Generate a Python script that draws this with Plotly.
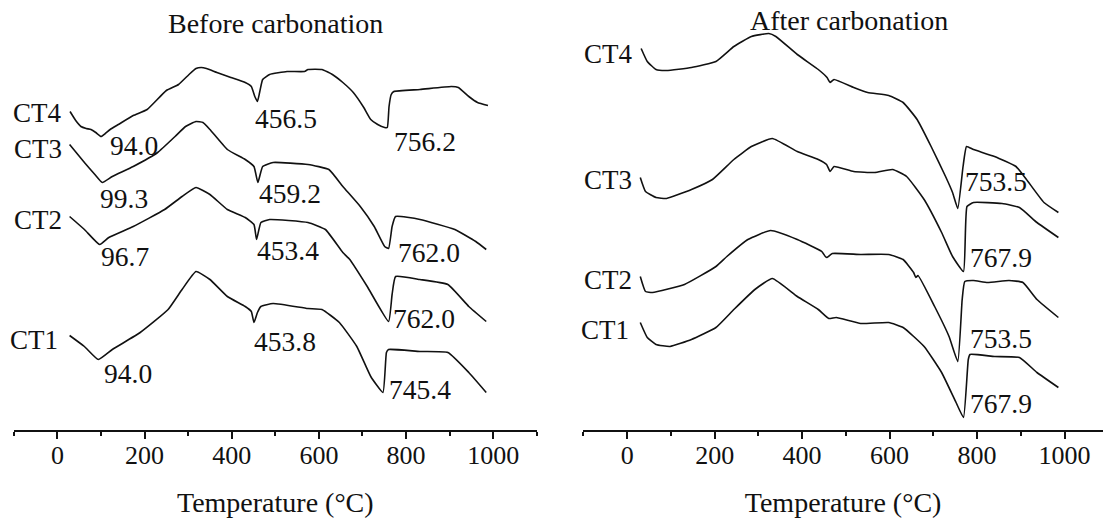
import plotly.graph_objects as go

# ---------------- data (temperature in °C, DTA signal in arbitrary offset units) ----------------
# Before carbonation
b_ct4_T = [29, 42, 54, 66, 77, 88, 100, 110, 121, 140, 174, 206, 250, 278, 302, 318, 330, 342, 366, 398, 431, 445, 453, 459, 464, 471, 487, 527, 567, 575, 607, 631, 655, 679, 703, 719, 735, 751, 757, 761, 766, 772, 832, 904, 920, 944, 964, 988]
b_ct4_y = [318, 309, 303, 301, 300, 297, 293, 296, 300, 305, 314, 320, 339, 345, 355, 361, 362, 361, 357, 352, 347, 343, 333, 328, 337, 350, 355, 358, 358, 360, 360, 355, 347, 337, 322, 310, 305, 302, 302, 323, 335, 338, 340, 343, 342, 333, 327, 324]

b_ct3_T = [28, 62, 86, 103, 126, 174, 230, 270, 294, 318, 334, 350, 390, 431, 451, 460, 471, 495, 575, 623, 655, 695, 727, 751, 760, 768, 776, 832, 912, 960, 984]
b_ct3_y = [285, 267, 255, 247, 253, 263, 277, 293, 303, 308, 307, 300, 280, 270, 263, 247, 263, 267, 265, 260, 243, 223, 203, 183, 181, 203, 213, 210, 200, 188, 180]

b_ct2_T = [28, 62, 97, 118, 174, 246, 286, 318, 350, 390, 431, 451, 457, 467, 487, 575, 615, 655, 671, 711, 760, 768, 776, 832, 896, 944, 984]
b_ct2_y = [213, 200, 185, 192, 203, 220, 233, 242, 235, 220, 212, 205, 190, 207, 210, 207, 200, 177, 170, 143, 108, 135, 153, 150, 145, 123, 108]

b_ct1_T = [28, 62, 94, 126, 190, 254, 286, 318, 350, 390, 431, 445, 451, 459, 467, 495, 575, 607, 647, 687, 719, 747, 755, 760, 832, 896, 944, 984]
b_ct1_y = [94, 83, 70, 80, 97, 120, 140, 158, 150, 133, 123, 118, 107, 117, 123, 126, 121, 120, 107, 83, 53, 37, 77, 80, 78, 77, 57, 37]

# After carbonation
a_ct4_T = [32, 46, 66, 90, 147, 203, 244, 284, 324, 340, 389, 437, 457, 464, 473, 518, 550, 598, 631, 663, 695, 728, 744, 756, 768, 776, 792, 840, 889, 913, 953, 986]
a_ct4_y = [381, 368, 360, 359, 362, 368, 383, 393, 396, 393, 375, 360, 352, 347, 350, 342, 337, 334, 327, 310, 283, 253, 237, 221, 263, 283, 280, 273, 263, 250, 227, 217]

a_ct3_T = [30, 42, 66, 90, 147, 195, 244, 284, 332, 389, 437, 456, 464, 473, 518, 566, 607, 639, 679, 719, 744, 769, 777, 792, 857, 897, 937, 986]
a_ct3_y = [252, 238, 232, 231, 240, 250, 270, 283, 291, 278, 270, 265, 258, 263, 258, 257, 260, 253, 230, 197, 173, 158, 223, 227, 226, 222, 207, 192]

a_ct2_T = [30, 42, 58, 131, 203, 228, 276, 328, 389, 445, 453, 457, 469, 534, 598, 631, 655, 660, 665, 703, 736, 756, 766, 772, 792, 824, 873, 905, 937, 986]
a_ct2_y = [153, 138, 137, 145, 163, 173, 190, 199, 190, 178, 173, 172, 176, 175, 175, 170, 157, 152, 154, 123, 93, 68, 130, 148, 149, 147, 149, 147, 130, 112]

a_ct1_T = [30, 46, 66, 98, 147, 203, 244, 292, 332, 389, 437, 461, 478, 534, 598, 631, 679, 719, 752, 769, 780, 784, 840, 897, 937, 986]
a_ct1_y = [107, 92, 85, 83, 90, 102, 120, 140, 151, 133, 120, 111, 112, 106, 107, 102, 83, 57, 27, 12, 70, 75, 73, 72, 57, 42]

# series labels
series_names = ["CT4", "CT3", "CT2", "CT1"]
b_name_T = [15, 15, 15, 5]
b_name_y = [317, 281, 210, 90]
a_name_T = [19, 16, 16, 9]
a_name_y = [376, 250, 150, 100]

# peak labels
b_peak_text = ["94.0", "456.5", "756.2", "99.3", "459.2", "96.7", "453.4", "762.0", "762.0", "453.8", "94.0", "745.4"]
b_peak_T = [175, 524, 843, 153, 534, 155, 530, 852, 841, 522, 162, 831]
b_peak_y = [284, 311, 288, 231, 236, 173, 179, 177, 111, 88, 56, 40]

a_peak_text = ["753.5", "767.9", "753.5", "767.9"]
a_peak_T = [844, 855, 855, 855]
a_peak_y = [248, 172, 91, 26]

panel_titles = ["Before carbonation", "After carbonation"]
x_title = "Temperature (°C)"
tick_vals = [0, 200, 400, 600, 800, 1000]

# ---------------- figure ----------------
FONT = "Liberation Serif"
INK = "#111111"
fig = go.Figure()

before = [(b_ct4_T, b_ct4_y), (b_ct3_T, b_ct3_y), (b_ct2_T, b_ct2_y), (b_ct1_T, b_ct1_y)]
after = [(a_ct4_T, a_ct4_y), (a_ct3_T, a_ct3_y), (a_ct2_T, a_ct2_y), (a_ct1_T, a_ct1_y)]

for name, (t, y) in zip(series_names, before):
    fig.add_trace(go.Scatter(x=t, y=y, mode="lines", name=name + " before",
                             line=dict(color=INK, width=1.6, shape="spline", smoothing=0.4),
                             xaxis="x", yaxis="y", showlegend=False, hoverinfo="skip"))
for name, (t, y) in zip(series_names, after):
    fig.add_trace(go.Scatter(x=t, y=y, mode="lines", name=name + " after",
                             line=dict(color=INK, width=1.6, shape="spline", smoothing=0.4),
                             xaxis="x2", yaxis="y2", showlegend=False, hoverinfo="skip"))

ann = []
for name, t, y in zip(series_names, b_name_T, b_name_y):
    ann.append(dict(x=t, y=y, xref="x", yref="y", text=name, showarrow=False,
                    xanchor="right", yanchor="middle", font=dict(family=FONT, size=27, color=INK)))
for name, t, y in zip(series_names, a_name_T, a_name_y):
    ann.append(dict(x=t, y=y, xref="x2", yref="y2", text=name, showarrow=False,
                    xanchor="right", yanchor="middle", font=dict(family=FONT, size=27, color=INK)))
for txt, t, y in zip(b_peak_text, b_peak_T, b_peak_y):
    ann.append(dict(x=t, y=y, xref="x", yref="y", text=txt, showarrow=False,
                    xanchor="center", yanchor="middle", font=dict(family=FONT, size=27.5, color=INK)))
for txt, t, y in zip(a_peak_text, a_peak_T, a_peak_y):
    ann.append(dict(x=t, y=y, xref="x2", yref="y2", text=txt, showarrow=False,
                    xanchor="center", yanchor="middle", font=dict(family=FONT, size=27.5, color=INK)))
ann.append(dict(x=0.2497, y=1 - 23.3 / 518, xref="paper", yref="paper", text=panel_titles[0],
                showarrow=False, xanchor="center", yanchor="middle",
                font=dict(family=FONT, size=28, color=INK)))
ann.append(dict(x=849 / 1103, y=1 - 20 / 518, xref="paper", yref="paper", text=panel_titles[1],
                showarrow=False, xanchor="center", yanchor="middle",
                font=dict(family=FONT, size=28, color=INK)))

y_dom = [(518 - 429.5) / 518, 1.0]

def xaxis(domain, rng, anchor):
    return dict(domain=domain, range=rng, anchor=anchor,
                showline=True, linecolor=INK, linewidth=2,
                showgrid=False, zeroline=False,
                tickmode="array", tickvals=tick_vals,
                ticks="outside", ticklen=7, tickwidth=1.8, tickcolor=INK,
                ticklabelstandoff=-6,
                minor=dict(dtick=100, tick0=0, ticks="outside", ticklen=4, tickwidth=1.8, tickcolor=INK),
                tickfont=dict(family=FONT, size=26, color=INK),
                title=dict(text=x_title, font=dict(family=FONT, size=28, color=INK), standoff=24),
                automargin=False, fixedrange=True)

def yaxis(anchor):
    return dict(domain=y_dom, range=[0, 429.5], anchor=anchor, visible=False,
                showgrid=False, zeroline=False, fixedrange=True)

fig.update_layout(
    width=1103, height=518,
    margin=dict(l=0, r=0, t=0, b=0),
    paper_bgcolor="white", plot_bgcolor="white",
    xaxis=xaxis([13.6 / 1103, 537 / 1103], [-100.5, 1100.5], "y"),
    xaxis2=xaxis([583.2 / 1103, 1.0], [-100.5, 1088], "y2"),
    yaxis=yaxis("x"),
    yaxis2=yaxis("x2"),
    annotations=ann,
    showlegend=False,
)

fig.write_html("out.html", config={"displayModeBar": False})
